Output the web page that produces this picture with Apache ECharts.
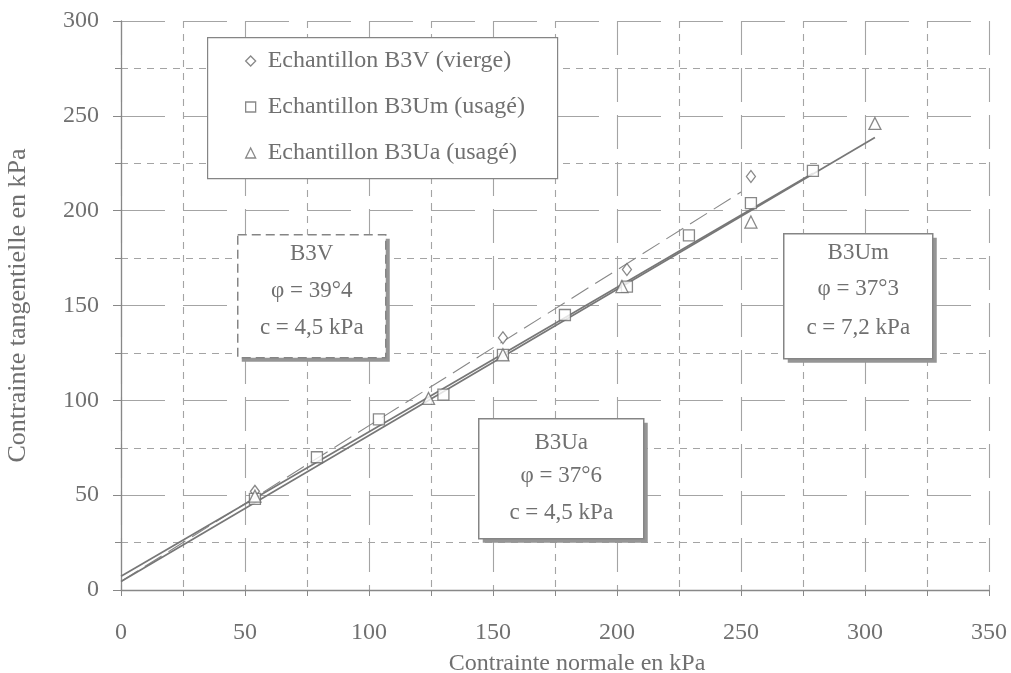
<!DOCTYPE html>
<html>
<head>
<meta charset="utf-8">
<script src="https://cdn.jsdelivr.net/npm/echarts@6/dist/echarts.min.js"></script>
<style>
  html, body { margin: 0; padding: 0; background: #fff; }
  #chart { width: 1011px; height: 673px; }
</style>
</head>
<body>
<div id="chart"></div>
<script>
// Shear test results: tangential vs normal stress for three samples
const xTicks = [0, 50, 100, 150, 200, 250, 300, 350];
const yTicks = [0, 50, 100, 150, 200, 250, 300];

const b3vX = [54, 154, 204, 254];
const b3vY = [52, 133, 169, 218];

const b3umX = [54, 79, 104, 130, 154, 179, 204, 229, 254, 279];
const b3umY = [48, 70, 90, 103, 124, 145, 160, 187, 204, 221];

const b3uaX = [54, 124, 154, 202, 254, 304];
const b3uaY = [49.5, 101, 124, 160, 194, 246];

const seriesNames = ['Echantillon B3V (vierge)', 'Echantillon B3Um (usagé)', 'Echantillon B3Ua (usagé)'];

// Mohr-Coulomb envelopes: friction angle (degrees), cohesion (kPa), extent along x
const fitNames = ['B3V', 'B3Um', 'B3Ua'];
const fitPhi = [39.4, 37.3, 37.6];
const fitC = [4.5, 7.2, 4.5];
const fitXEnd = [250, 279, 304];
const phiLabels = ['φ = 39°4', 'φ = 37°3', 'φ = 37°6'];
const cLabels = ['c = 4,5 kPa', 'c = 7,2 kPa', 'c = 4,5 kPa'];

const pairs = (xs, ys) => xs.map((x, i) => [x, ys[i]]);
const envelope = i => {
  const t = Math.tan(fitPhi[i] * Math.PI / 180);
  return [[0, fitC[i]], [fitXEnd[i], fitC[i] + t * fitXEnd[i]]];
};

const FONT = '"Liberation Serif", "Times New Roman", serif';
const TXT = '#707070';
const GRID = '#a4a4a4';

const markerStyle = { color: '#ffffff', borderColor: '#6a6a6a', borderWidth: 1.3 };

// Parameter box with drop shadow for one envelope
function box(i, x, y, w, h, dashed, lineYs) {
  return {
    type: 'group', left: x, top: y, z: 5,
    children: [
      { type: 'rect', shape: { x: 4, y: 4, width: w, height: h }, style: { fill: '#959595' }, z: 5 },
      { type: 'rect', shape: { x: 0, y: 0, width: w, height: h },
        style: { fill: '#ffffff', stroke: '#858585', lineWidth: 1.5, lineDash: dashed ? [9, 5] : null }, z: 6 },
      ...[fitNames[i], phiLabels[i], cLabels[i]].map((t, k) => ({
        type: 'text', z: 7,
        style: { x: w / 2, y: lineYs[k], text: t, fill: TXT, font: '23px ' + FONT, textAlign: 'center', textVerticalAlign: 'middle' }
      }))
    ]
  };
}

const chart = echarts.init(document.getElementById('chart'), null, { renderer: 'canvas' });

chart.setOption({
  backgroundColor: '#ffffff',
  animation: false,
  textStyle: { fontFamily: FONT },
  grid: { left: 121, right: 22, top: 21, bottom: 83, containLabel: false, outerBoundsMode: 'none' },
  xAxis: {
    type: 'value', min: xTicks[0], max: xTicks[xTicks.length - 1], interval: 50,
    name: 'Contrainte normale en kPa', nameLocation: 'middle', nameGap: 62,
    nameTextStyle: { color: TXT, fontSize: 24, fontFamily: FONT, padding: [0, 0, 0, 44] },
    axisLine: { lineStyle: { color: '#888888', width: 1.3 } },
    axisTick: { show: true, length: 6, lineStyle: { color: '#888888' } },
    minorTick: { show: true, splitNumber: 2, length: 6, lineStyle: { color: '#888888' } },
    axisLabel: { color: TXT, fontSize: 24, fontFamily: FONT, margin: 31 },
    splitLine: { show: true, lineStyle: { color: GRID, width: 1.1, type: [34, 13] } },
    minorSplitLine: { show: true, lineStyle: { color: GRID, width: 1.1, type: [7, 6] } }
  },
  yAxis: {
    type: 'value', min: yTicks[0], max: yTicks[yTicks.length - 1], interval: 50,
    name: 'Contrainte tangentielle en kPa', nameLocation: 'middle', nameGap: 90,
    nameTextStyle: { color: TXT, fontSize: 26, fontFamily: FONT },
    axisLine: { show: true, lineStyle: { color: '#888888', width: 1.3 } },
    axisTick: { show: true, length: 8, lineStyle: { color: '#888888' } },
    minorTick: { show: true, splitNumber: 2, length: 6, lineStyle: { color: '#888888' } },
    axisLabel: { color: TXT, fontSize: 24, fontFamily: FONT, margin: 22 },
    splitLine: { show: true, lineStyle: { color: GRID, width: 1.1, type: [44, 18] } },
    minorSplitLine: { show: true, lineStyle: { color: GRID, width: 1.1, type: [7, 6] } }
  },
  legend: {
    orient: 'vertical', left: 240, top: 44, z: 6,
    itemWidth: 10, itemHeight: 10, itemGap: 22,
    textStyle: { color: TXT, fontSize: 24, fontFamily: FONT, padding: [0, 0, 0, 7] },
    data: seriesNames.map(n => ({ name: n, itemStyle: markerStyle }))
  },
  graphic: [
    { type: 'rect', left: 207, top: 37, z: 5,
      shape: { width: 350, height: 141 },
      style: { fill: '#ffffff', stroke: '#858585', lineWidth: 1.2 } },
    box(0, 237, 234, 148, 123, true, [19, 56, 93]),
    box(1, 783, 233, 149, 125, false, [19, 55, 94]),
    box(2, 478, 418, 165, 120, false, [24, 57, 94])
  ],
  series: [
    { name: 'fit B3V', type: 'line', data: envelope(0), showSymbol: false, silent: true, z: 3,
      lineStyle: { color: '#888888', width: 1.1, type: [20, 8] } },
    { name: 'fit B3Um', type: 'line', data: envelope(1), showSymbol: false, silent: true, z: 3,
      lineStyle: { color: '#777777', width: 1.7 } },
    { name: 'fit B3Ua', type: 'line', data: envelope(2), showSymbol: false, silent: true, z: 3,
      lineStyle: { color: '#777777', width: 1.7 } },
    { name: seriesNames[0], type: 'scatter', data: pairs(b3vX, b3vY), symbol: 'diamond', symbolSize: [9, 12], z: 4,
      itemStyle: markerStyle },
    { name: seriesNames[1], type: 'scatter', data: pairs(b3umX, b3umY), symbol: 'rect', symbolSize: 11, z: 4,
      itemStyle: markerStyle },
    { name: seriesNames[2], type: 'scatter', data: pairs(b3uaX, b3uaY), symbol: 'triangle', symbolSize: 12, z: 4,
      itemStyle: markerStyle }
  ]
});
</script>
</body>
</html>
